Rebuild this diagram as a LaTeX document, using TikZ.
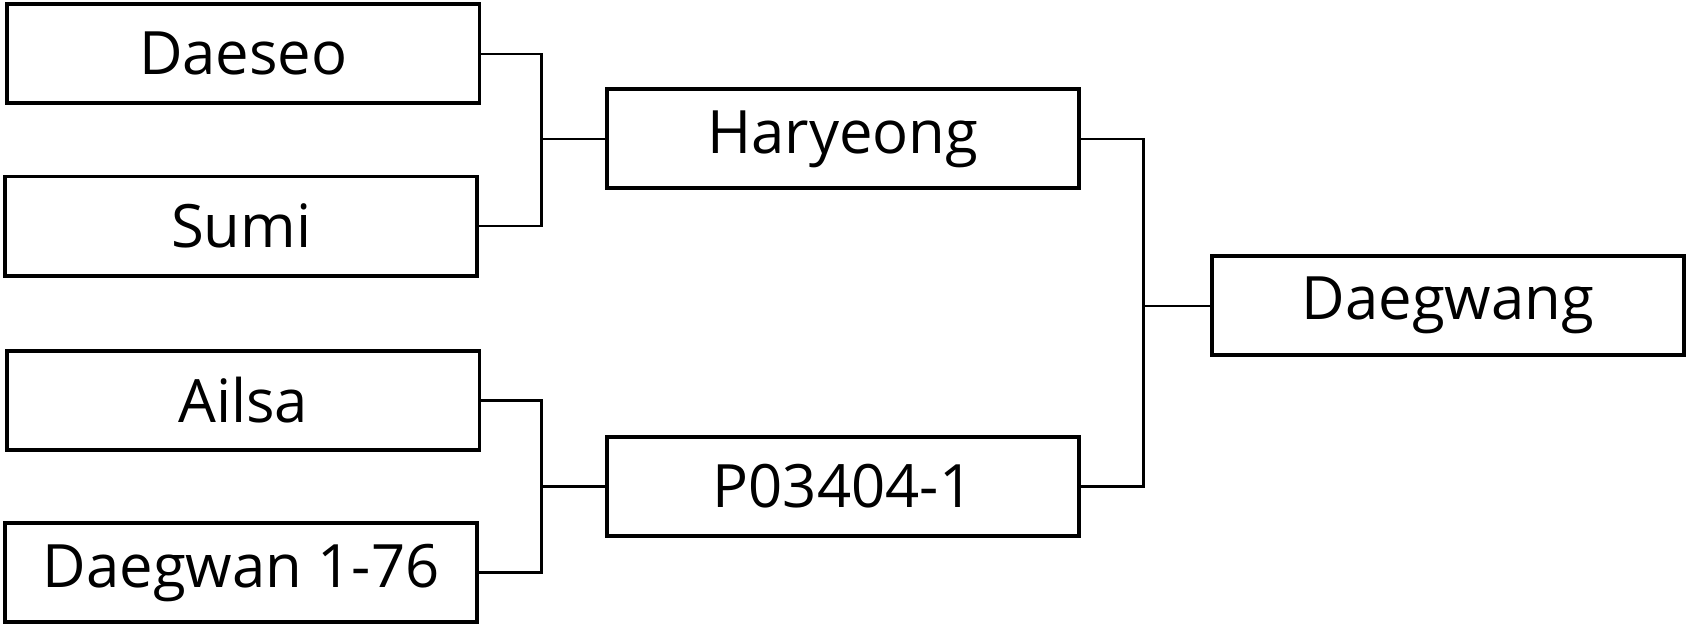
\documentclass[tikz,border=0pt]{standalone}
\usepackage{fontspec}
\setmainfont{Open Sans}
\begin{document}
\begin{tikzpicture}[x=0.010765cm,y=-0.010765cm]
\tikzstyle{team} = [rectangle, minimum width=4.72cm, minimum height=0.99cm, text centered, draw=black, line width=1.1pt, font=\fontsize{17}{20}\selectfont]
\tikzstyle{link} = [line width=0.7pt]
\useasboundingbox (0,0) rectangle (1568,584);
%
\node (daeseo) [team] at (226,50) {Daeseo};
\node (sumi) [team] at (224,210) {Sumi};
\node (ailsa) [team] at (226,372) {Ailsa};
\node (daegwan) [team] at (224,532) {Daegwan 1-76};
\node (haryeong) [team] at (783,129) {Haryeong};
\node (p03404) [team] at (783,452) {P03404-1};
\node (daegwang) [team] at (1345,284) {Daegwang};
%
\draw [link] (daeseo.east) -- ++(56,0) |- (sumi.east);
\draw [link] (503,129) -- (haryeong.west);
\draw [link] (ailsa.east) -- ++(56,0) |- (daegwan.east);
\draw [link] (503,452) -- (p03404.west);
\draw [link] (haryeong.east) -- ++(58,0) |- (p03404.east);
\draw [link] (1062,284) -- (daegwang.west);
\end{tikzpicture}
\end{document}
